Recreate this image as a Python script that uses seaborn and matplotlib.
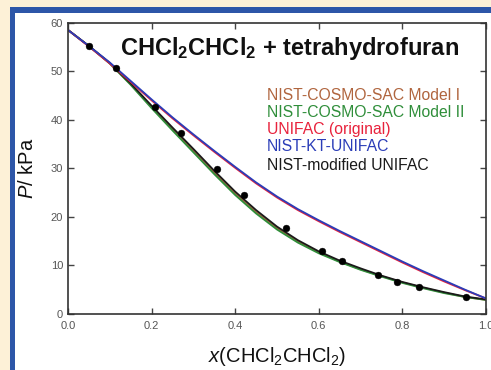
import numpy as np
import pandas as pd
import matplotlib
matplotlib.use("Agg")
import matplotlib.pyplot as plt
from matplotlib.patches import Rectangle
import seaborn as sns

# ---------------- data ----------------
x_model = [0.00, 0.05, 0.10, 0.15, 0.20, 0.25, 0.30, 0.35, 0.40, 0.45, 0.50,
           0.55, 0.60, 0.65, 0.70, 0.75, 0.80, 0.85, 0.90, 0.95, 1.00]
p_kt_unifac = [58.5, 55.2, 51.8, 48.0, 44.2, 40.5, 37.0, 33.6, 30.3, 27.1, 24.2,
               21.6, 19.3, 17.1, 15.0, 12.9, 10.8, 8.8, 6.9, 5.0, 3.2]
p_unifac = [58.5, 55.1, 51.6, 47.8, 44.0, 40.3, 36.8, 33.4, 30.1, 26.9, 24.0,
            21.4, 19.1, 16.9, 14.8, 12.7, 10.6, 8.6, 6.7, 4.9, 3.2]
p_cosmo_1 = [58.5, 55.2, 51.6, 47.3, 42.6, 38.1, 33.6, 29.1, 24.8, 21.0, 17.7,
             14.9, 12.7, 10.8, 9.2, 7.8, 6.5, 5.4, 4.4, 3.5, 2.9]
p_cosmo_2 = [58.5, 55.2, 51.6, 47.2, 42.4, 37.8, 33.3, 28.8, 24.5, 20.7, 17.4,
             14.7, 12.5, 10.7, 9.1, 7.7, 6.4, 5.3, 4.3, 3.5, 2.9]
p_mod_unifac = [58.5, 55.2, 51.7, 47.5, 42.9, 38.4, 34.0, 29.5, 25.2, 21.4, 18.0,
                15.2, 12.9, 11.0, 9.4, 7.9, 6.6, 5.5, 4.5, 3.6, 3.0]

x_exp = [0.051, 0.115, 0.208, 0.270, 0.357, 0.422, 0.521, 0.608, 0.655,
         0.742, 0.788, 0.840, 0.951]
p_exp = [55.3, 50.7, 42.7, 37.2, 29.8, 24.6, 17.7, 13.0, 10.9, 8.0, 6.6, 5.5, 3.5]

model_names = ["NIST-COSMO-SAC Model I", "NIST-COSMO-SAC Model II",
               "UNIFAC (original)", "NIST-KT-UNIFAC", "NIST-modified UNIFAC"]
model_colors = ["#B0653E", "#2F8E3A", "#E8223C", "#2B3DB8", "#1A1A1A"]
x_ticks = [0.0, 0.2, 0.4, 0.6, 0.8, 1.0]
y_ticks = [0, 10, 20, 30, 40, 50, 60]

# ---------------- style ----------------
sns.set_style("ticks")
plt.rcParams["font.family"] = ["Liberation Sans", "DejaVu Sans"]
plt.rcParams["mathtext.fontset"] = "custom"
plt.rcParams["mathtext.rm"] = "Liberation Sans"
plt.rcParams["mathtext.it"] = "Liberation Sans:italic"
plt.rcParams["mathtext.bf"] = "Liberation Sans:bold"

W, H = 491, 370
fig = plt.figure(figsize=(W / 100, H / 100), dpi=100, facecolor="#FDF1D7")

# background frame in its own axes, behind the plot
bg = fig.add_axes([0, 0, 1, 1], zorder=-10)
bg.set_xlim(0, W)
bg.set_ylim(0, H)
bg.axis("off")
bg.add_patch(Rectangle((10, 0), W, H - 7, facecolor="#2D56A8", edgecolor="none"))
bg.add_patch(Rectangle((15, 0), W, H - 13, facecolor="white", edgecolor="none"))

ax = fig.add_axes([68 / W, 56 / H, 418 / W, 291.3 / H], zorder=5)
ax.set_facecolor("none")

series = [p_cosmo_1, p_cosmo_2, p_mod_unifac, p_unifac, p_kt_unifac]
order_colors = [model_colors[0], model_colors[1], model_colors[4], model_colors[2], model_colors[3]]
for vals, col in zip(series, order_colors):
    df = pd.DataFrame({"x": x_model, "P": vals})
    sns.lineplot(data=df, x="x", y="P", color=col, lw=1.3, ax=ax, legend=False)

df_exp = pd.DataFrame({"x": x_exp, "P": p_exp})
sns.scatterplot(data=df_exp, x="x", y="P", color="black", s=24, edgecolor="black",
                linewidth=0.3, ax=ax, zorder=5, legend=False)

ax.set_xlim(0, 1.0)
ax.set_ylim(0, 60)
ax.set_xticks(x_ticks)
ax.set_xticklabels([f"{v:.1f}" for v in x_ticks])
ax.set_yticks(y_ticks)
ax.set_yticklabels([str(v) for v in y_ticks])

for s in ax.spines.values():
    s.set_visible(True)
    s.set_color("#333333")
    s.set_linewidth(1.2)
ax.tick_params(direction="in", length=4, width=1, color="#444444",
               top=True, right=True, labelsize=8, labelcolor="#555555")
ax.tick_params(axis="x", pad=5)
ax.tick_params(axis="y", pad=3.5)

ax.set_xlabel("$\\it{x}$(CHCl$_2$CHCl$_2$)", fontsize=14.5, color="#111111")
ax.xaxis.set_label_coords(0.5, -0.145)
ax.xaxis.label.set_va("center")
ax.set_ylabel("$\\it{P}$/ kPa", fontsize=14.5, color="#111111")
ax.yaxis.set_label_coords(-0.096, 0.5)
ax.yaxis.label.set_va("center")

ax.text(0.531, 0.889, "CHCl$_\\mathbf{2}$CHCl$_\\mathbf{2}$ + tetrahydrofuran",
        transform=ax.transAxes, ha="center", va="baseline", fontsize=17,
        fontweight="bold", color="#111111")

legend_y = [0.733, 0.675, 0.618, 0.560, 0.493]
for name, col, yy in zip(model_names, model_colors, legend_y):
    ax.text(0.475, yy, name, transform=ax.transAxes, ha="left", va="baseline",
            fontsize=11.3, color=col)

fig.savefig("out.png", dpi=100, facecolor=fig.get_facecolor())
